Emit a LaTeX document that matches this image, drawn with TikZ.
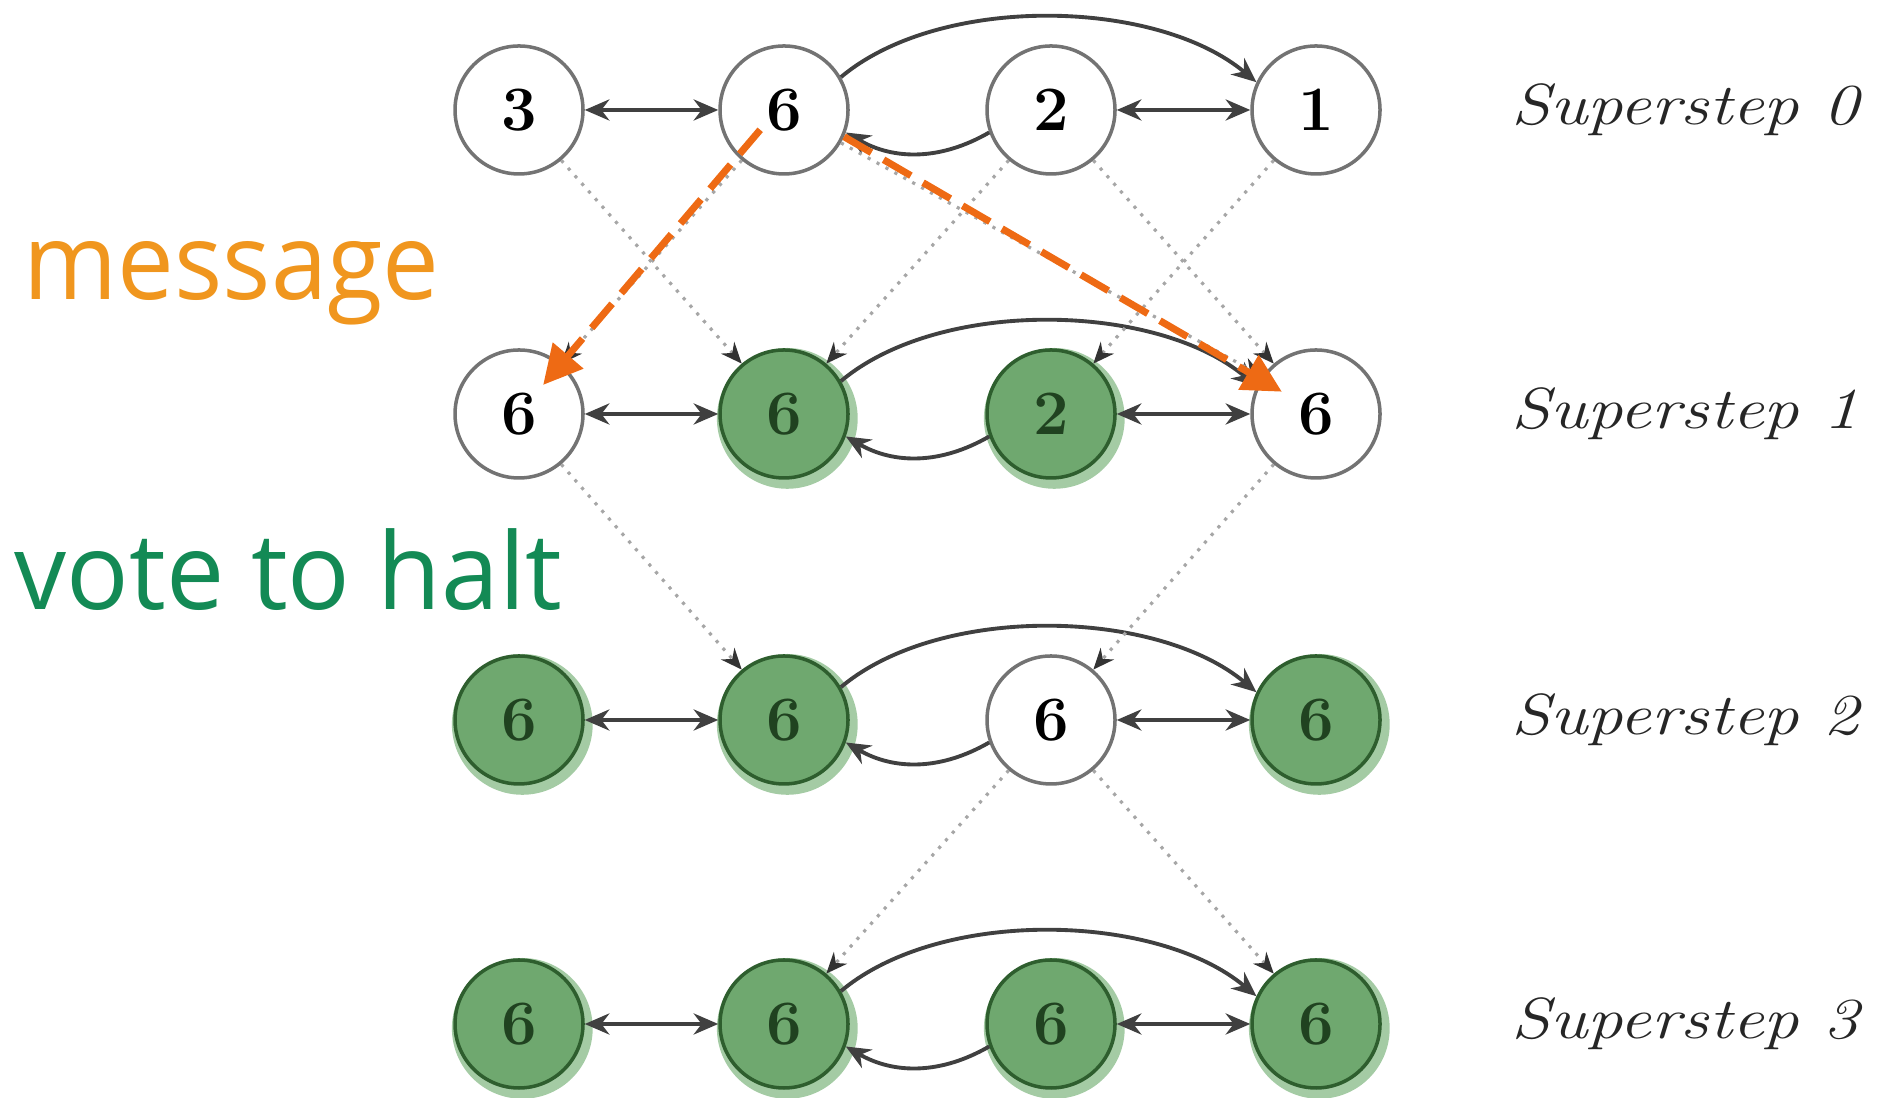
\documentclass[tikz,border=0pt]{standalone}
\usepackage{fontspec}
\usepackage{graphicx}
\usepackage{tikz}
\usetikzlibrary{arrows.meta}
\usetikzlibrary{shadows}
\usetikzlibrary{calc}
\newfontfamily\labelfont{Open Sans}
\newcommand{\nodesize}{1.28cm}
\newcommand{\superstep}[1]{\scalebox{1.22}[1]{\textit{Superstep~#1}}}
\definecolor{msgtext}{HTML}{F0961E}
\definecolor{msgarrow}{HTML}{EE6A14}
\definecolor{halttext}{HTML}{138A55}
\definecolor{haltfill}{HTML}{6FA86F}
\definecolor{haltdraw}{HTML}{2E5E2E}
\definecolor{haltglow}{HTML}{86BA86}
\tikzset{vertex/.style={circle,draw=#1,line width=1pt,minimum size=\nodesize,inner sep=0pt,font=\fontsize{18}{18}\selectfont\bfseries},vertex/.default=black!55}
\tikzset{halted/.style={vertex=haltdraw,fill=haltfill,text=#1,drop shadow={shadow xshift=0.03cm,shadow yshift=-0.04cm,shadow scale=1.1,fill=haltglow,opacity=0.75}},halted/.default=haltdraw!70!black}
\tikzset{link/.style={color=#1,line width=1.1pt,>={Stealth[length=7pt,width=6pt]},<->},link/.default=black!75}
\tikzset{flow/.style={color=#1,line width=1.1pt,-{Stealth[length=7pt,width=6pt]}},flow/.default=black!75}
\tikzset{trace/.style={color=#1,dotted,line width=0.9pt,-{Stealth[length=6pt,width=5pt,color=black!80]}},trace/.default=black!35}
\tikzset{message/.style={color=#1,line width=2pt,dash pattern=on 9pt off 4pt,-{Triangle[length=11pt,width=11pt]}},message/.default=msgarrow}
\tikzset{phase/.style={anchor=west,inner sep=0pt,text=black!85,font=\fontsize{16.5}{16.5}\selectfont}}

\begin{document}
\begin{tikzpicture}
	\useasboundingbox (0,0) rectangle (18.83,10.98);

	% superstep 0
	\node [vertex] (A0) at (5.19,9.88) {3};
	\node [vertex] (B0) at (7.84,9.88) {6};
	\node [vertex] (C0) at (10.51,9.88) {2};
	\node [vertex] (D0) at (13.16,9.88) {1};
	% superstep 1
	\node [vertex] (A1) at (5.19,6.84) {6};
	\node [halted] (B1) at (7.84,6.84) {6};
	\node [halted] (C1) at (10.51,6.84) {2};
	\node [vertex] (D1) at (13.16,6.84) {6};
	% superstep 2
	\node [halted] (A2) at (5.19,3.78) {6};
	\node [halted] (B2) at (7.84,3.78) {6};
	\node [vertex] (C2) at (10.51,3.78) {6};
	\node [halted] (D2) at (13.16,3.78) {6};
	% superstep 3
	\node [halted] (A3) at (5.19,0.74) {6};
	\node [halted] (B3) at (7.84,0.74) {6};
	\node [halted] (C3) at (10.51,0.74) {6};
	\node [halted] (D3) at (13.16,0.74) {6};

	% graph edges
	\draw [link] (A0) -- (B0);
	\draw [link] (C0) -- (D0);
	\draw [flow] (B0.30) to[out=40,in=140,looseness=0.8] (D0.155);
	\draw [flow] (C0.200) to[bend left=30] (B0.-20);
	\draw [link] (A1) -- (B1);
	\draw [link] (C1) -- (D1);
	\draw [flow] (B1.30) to[out=40,in=140,looseness=0.8] (D1.155);
	\draw [flow] (C1.200) to[bend left=30] (B1.-20);
	\draw [link] (A2) -- (B2);
	\draw [link] (C2) -- (D2);
	\draw [flow] (B2.30) to[out=40,in=140,looseness=0.8] (D2.155);
	\draw [flow] (C2.200) to[bend left=30] (B2.-20);
	\draw [link] (A3) -- (B3);
	\draw [link] (C3) -- (D3);
	\draw [flow] (B3.30) to[out=40,in=140,looseness=0.8] (D3.155);
	\draw [flow] (C3.200) to[bend left=30] (B3.-20);

	% messages between supersteps
	\draw [trace] (A0.-50) -- (B1.130);
	\draw [trace] (B0.-130) -- (A1.50);
	\draw [trace] (B0.-30) -- (D1.145);
	\draw [trace] (C0.-130) -- (B1.50);
	\draw [trace] (C0.-50) -- (D1.130);
	\draw [trace] (D0.-130) -- (C1.50);
	\draw [trace] (A1.-50) -- (B2.130);
	\draw [trace] (D1.-130) -- (C2.50);
	\draw [trace] (C2.-130) -- (B3.50);
	\draw [trace] (C2.-50) -- (D3.130);

	\draw [message,shorten <=-0.35cm,shorten >=-0.28cm] (B0.-135) -- (A1.50);
	\draw [message,shorten >=-0.25cm] (B0.-24) -- (D1.148);

	% legend
	\node [anchor=base west,inner sep=0pt,text=msgtext] (msg) at (0.23,7.98) {\labelfont\fontsize{30.3}{30.3}\selectfont\scalebox{0.95}[1]{message}};
	\node [anchor=base west,inner sep=0pt,text=halttext] (halt) at (0.14,4.88) {\labelfont\fontsize{30.3}{30.3}\selectfont\scalebox{0.975}[1]{vote to halt}};

	\node [phase] (P0) at (15.11,9.88) {\superstep{0}};
	\node [phase] (P1) at (15.11,6.84) {\superstep{1}};
	\node [phase] (P2) at (15.11,3.78) {\superstep{2}};
	\node [phase] (P3) at (15.11,0.74) {\superstep{3}};
\end{tikzpicture}
\end{document}
